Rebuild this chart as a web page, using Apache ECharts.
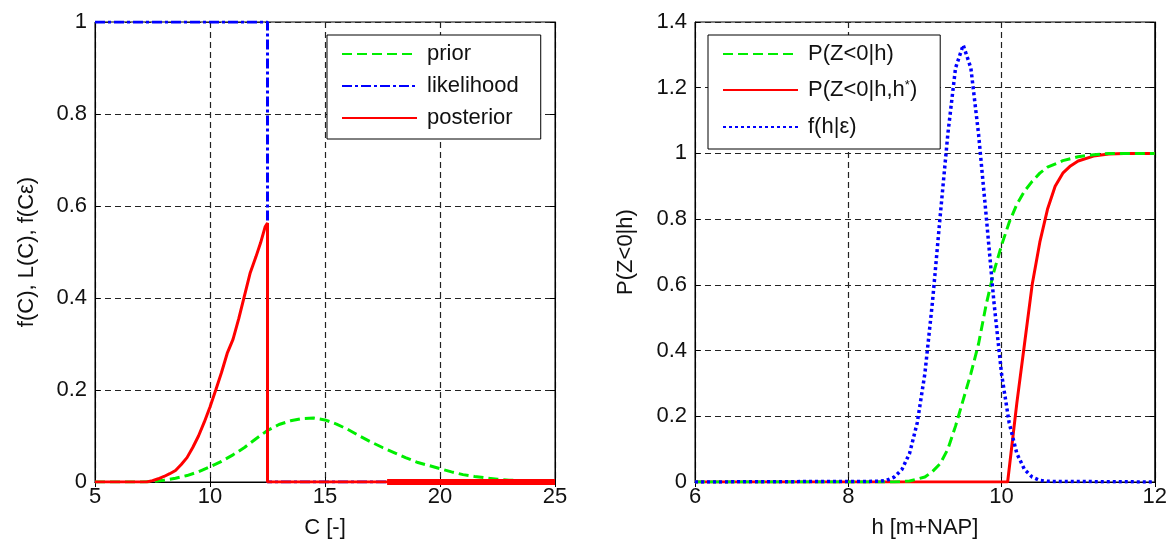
<!DOCTYPE html>
<html>
<head>
<meta charset="utf-8">
<script src="https://cdn.jsdelivr.net/npm/echarts@6/dist/echarts.min.js"></script>
<style>
  html, body { margin: 0; padding: 0; background: #fff; }
  #chart { width: 1170px; height: 544px; }
</style>
</head>
<body>
<div id="chart"></div>
<script>
// left panel: prior / likelihood / posterior of C
const priorC = [5, 6, 7, 7.5, 8, 8.5, 9, 9.5, 10, 10.5, 11, 11.5, 12, 12.5, 13, 13.5, 14, 14.5, 15, 15.5, 16, 16.5, 17, 17.5, 18, 18.5, 19, 19.5, 20, 20.5, 21, 21.5, 22, 22.5, 23, 23.5, 24, 24.5, 25];
const priorF = [0, 0, 0, 0.001, 0.004, 0.008, 0.014, 0.022, 0.033, 0.045, 0.059, 0.075, 0.094, 0.112, 0.125, 0.133, 0.138, 0.139, 0.135, 0.126, 0.114, 0.1, 0.087, 0.075, 0.064, 0.053, 0.043, 0.036, 0.029, 0.022, 0.016, 0.012, 0.009, 0.006, 0.004, 0.003, 0.002, 0.001, 0.001];

const likeC = [5, 12.5, 12.5, 25];
const likeF = [1, 1, 0, 0];

const postC = [5, 7.25, 7.5, 7.75, 8, 8.25, 8.5, 8.75, 9, 9.25, 9.5, 9.75, 10, 10.25, 10.5, 10.75, 11, 11.25, 11.5, 11.75, 12, 12.2, 12.4, 12.5, 12.5, 25];
const postF = [0, 0, 0.003, 0.007, 0.012, 0.018, 0.025, 0.038, 0.053, 0.075, 0.1, 0.13, 0.163, 0.2, 0.238, 0.28, 0.31, 0.355, 0.405, 0.455, 0.49, 0.52, 0.555, 0.563, 0, 0];
const postTailC = [17.7, 25];
const postTailF = [0, 0];

// right panel: P(Z<0|h), P(Z<0|h,h*), f(h|eps)
const hGreen = [6, 8.6, 8.8, 9.0, 9.1, 9.2, 9.3, 9.4, 9.5, 9.6, 9.7, 9.8, 9.9, 10.0, 10.1, 10.2, 10.3, 10.4, 10.5, 10.6, 10.8, 11.0, 11.2, 11.4, 12];
const pGreen = [0, 0, 0.003, 0.015, 0.032, 0.056, 0.1, 0.17, 0.25, 0.33, 0.42, 0.54, 0.64, 0.72, 0.79, 0.845, 0.885, 0.915, 0.94, 0.958, 0.978, 0.99, 0.996, 1, 1];

const hRed = [6, 10.08, 10.15, 10.2, 10.3, 10.4, 10.5, 10.6, 10.7, 10.8, 10.9, 11.0, 11.2, 11.4, 11.6, 12];
const pRed = [0, 0, 0.14, 0.24, 0.42, 0.6, 0.73, 0.83, 0.9, 0.94, 0.962, 0.977, 0.992, 0.998, 1, 1];

const hBlue = [6, 8.4, 8.5, 8.6, 8.7, 8.8, 8.9, 9.0, 9.1, 9.2, 9.3, 9.4, 9.5, 9.6, 9.7, 9.8, 9.9, 10.0, 10.1, 10.2, 10.3, 10.4, 10.5, 10.6, 12];
const fBlue = [0, 0.002, 0.005, 0.015, 0.038, 0.087, 0.18, 0.33, 0.55, 0.81, 1.06, 1.26, 1.33, 1.26, 1.06, 0.81, 0.55, 0.33, 0.18, 0.087, 0.038, 0.015, 0.005, 0.002, 0];

const FONT = '"Liberation Sans", Arial, sans-serif';
const GREEN = '#00ee00', BLUE = '#0000ff', RED = '#ff0000';

const zip = (xs, ys) => xs.map((x, i) => [x, ys[i]]);

const txt = { color: '#111', fontFamily: FONT, fontSize: 22 };
const gridDash = { color: '#222', type: [6, 4], width: 1.2 };

// main axes (bottom / left) for a grid
function xMain(gi, min, max, interval, name) {
  return {
    type: 'value', gridIndex: gi, min: min, max: max, interval: interval,
    name: name, nameLocation: 'middle', nameGap: 35, nameTextStyle: txt,
    axisLine: { show: true, lineStyle: { color: '#000', width: 1 } },
    axisTick: { show: true, inside: true, length: 5, lineStyle: { color: '#000' } },
    axisLabel: Object.assign({ margin: 4 }, txt),
    splitLine: { show: true, lineStyle: gridDash }
  };
}
function yMain(gi, min, max, interval, name, gap) {
  return {
    type: 'value', gridIndex: gi, min: min, max: max, interval: interval,
    name: name, nameLocation: 'middle', nameGap: gap, nameTextStyle: txt,
    axisLine: { show: true, lineStyle: { color: '#000', width: 1 } },
    axisTick: { show: true, inside: true, length: 5, lineStyle: { color: '#000' } },
    axisLabel: Object.assign({ margin: 8 }, txt),
    splitLine: { show: true, lineStyle: gridDash }
  };
}
// mirror axes (top / right) only for the inward ticks of the box
function xTop(gi, min, max, interval) {
  return {
    type: 'value', gridIndex: gi, min: min, max: max, interval: interval, position: 'top',
    axisLine: { show: true, lineStyle: { color: '#000' } },
    axisTick: { show: true, inside: true, length: 5, lineStyle: { color: '#000' } },
    axisLabel: { show: false }, splitLine: { show: false }
  };
}
function yRight(gi, min, max, interval) {
  return {
    type: 'value', gridIndex: gi, min: min, max: max, interval: interval, position: 'right',
    axisLine: { show: true, lineStyle: { color: '#000' } },
    axisTick: { show: true, inside: true, length: 5, lineStyle: { color: '#000' } },
    axisLabel: { show: false }, splitLine: { show: false }
  };
}

function line(name, xi, yi, data, color, width, type, z) {
  return {
    name: name, type: 'line', xAxisIndex: xi, yAxisIndex: yi,
    data: data, symbol: 'none', showSymbol: false, animation: false, z: z,
    lineStyle: { color: color, width: width, type: type, cap: 'butt' },
    itemStyle: { color: color }
  };
}

const legendBase = {
  orient: 'vertical', align: 'left',
  itemWidth: 75, itemHeight: 14,
  borderColor: '#000', borderWidth: 1, borderRadius: 0,
  backgroundColor: '#fff',
  selectedMode: false,
  itemStyle: { opacity: 0, borderWidth: 0 },
  textStyle: {
    color: '#111', fontFamily: FONT, fontSize: 22, lineHeight: 22, padding: [0, 0, 0, 5],
    rich: { sup: { fontFamily: FONT, fontSize: 13, lineHeight: 22, verticalAlign: 'top', padding: [0, 0, 10, 0], color: '#111' } }
  }
};

const chart = echarts.init(document.getElementById('chart'), null, { renderer: 'canvas' });

chart.setOption({
  backgroundColor: '#fff',
  animation: false,
  grid: [
    { left: 95, right: 615, top: 22, bottom: 60, show: true, borderColor: '#000', borderWidth: 1, backgroundColor: '#fff' },
    { left: 695, right: 15, top: 22, bottom: 60, show: true, borderColor: '#000', borderWidth: 1, backgroundColor: '#fff' }
  ],
  legend: [
    Object.assign({}, legendBase, {
      left: 327, top: 35, itemGap: 10,
      padding: [8, 22, 10, 14],
      data: ['prior', 'likelihood', 'posterior']
    }),
    Object.assign({}, legendBase, {
      left: 708, top: 35, itemGap: 14,
      padding: [8, 23, 11, 14],
      data: ['P(Z<0|h)', 'P(Z<0|h,h*)', 'f(h|ε)'],
      formatter: function (n) { return n === 'P(Z<0|h,h*)' ? 'P(Z<0|h,h{sup|*})' : n; }
    })
  ],
  xAxis: [
    xMain(0, 5, 25, 5, 'C [-]'),
    xMain(1, 6, 12, 2, 'h [m+NAP]'),
    xTop(0, 5, 25, 5),
    xTop(1, 6, 12, 2)
  ],
  yAxis: [
    yMain(0, 0, 1, 0.2, 'f(C), L(C), f(Cε)', 57),
    yMain(1, 0, 1.4, 0.2, 'P(Z<0|h)', 58),
    yRight(0, 0, 1, 0.2),
    yRight(1, 0, 1.4, 0.2)
  ],
  series: [
    line('prior', 0, 0, zip(priorC, priorF), GREEN, 3, [10, 5], 2),
    line('likelihood', 0, 0, zip(likeC, likeF), BLUE, 3, [10, 3, 3, 3], 3),
    line('posterior', 0, 0, zip(postC, postF), RED, 3, 'solid', 4),
    line('posterior', 0, 0, zip(postTailC, postTailF), RED, 6, 'solid', 4),
    line('P(Z<0|h,h*)', 1, 1, zip(hRed, pRed), RED, 3, 'solid', 2),
    line('P(Z<0|h)', 1, 1, zip(hGreen, pGreen), GREEN, 3, [10, 5], 3),
    line('f(h|ε)', 1, 1, zip(hBlue, fBlue), BLUE, 3.5, [3, 3], 4)
  ]
});
</script>
</body>
</html>
